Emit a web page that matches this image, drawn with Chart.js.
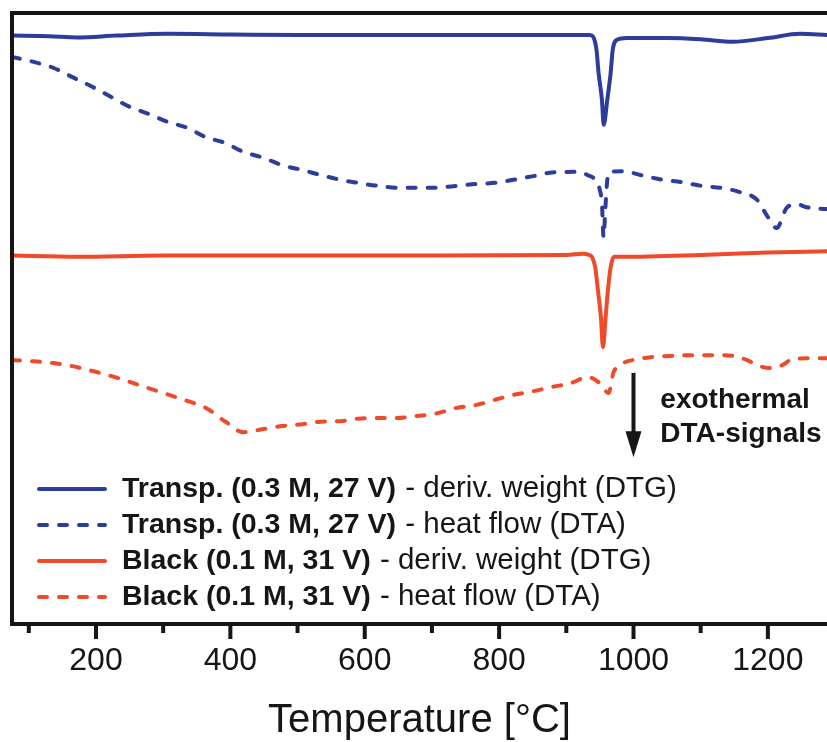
<!DOCTYPE html>
<html>
<head>
<meta charset="utf-8">
<script src="https://cdn.jsdelivr.net/npm/chart.js@4.4.1/dist/chart.umd.min.js"></script>
<style>
  html, body { margin: 0; padding: 0; background: #fff; }
  canvas { display: block; }
</style>
</head>
<body>
<canvas id="chart" width="827" height="742"></canvas>
<script>
// temperatures [°C] and signals (arbitrary units, curves are offset for display)
const dtgTranspT = [75, 130, 172, 230, 306, 400, 500, 600, 700, 800, 900, 935, 940, 945, 948, 953, 955.7, 961, 966, 969, 975, 990, 1050, 1100, 1148, 1200, 1248, 1288];
const dtgTranspV = [96.3, 96.2, 96.0, 96.3, 96.6, 96.5, 96.4, 96.4, 96.4, 96.4, 96.4, 96.4, 96.1, 93.9, 90.2, 85.8, 81.7, 85.8, 90.2, 93.9, 95.6, 95.9, 95.9, 95.7, 95.3, 95.9, 96.6, 96.4];

const dtaTranspT = [75, 107, 137, 165, 195, 222, 251, 278, 306, 336, 363, 393, 419, 449, 477, 507, 534, 564, 590, 620, 650, 700, 738, 764, 794, 821, 851, 879, 920, 931, 943, 950, 953, 955.5, 958, 961, 965, 984, 1017, 1044, 1072, 1102, 1129, 1158, 1184, 1200, 1213, 1228, 1243, 1258, 1288];
const dtaTranspV = [92.8, 92.0, 91.0, 89.5, 87.9, 86.3, 84.6, 83.5, 82.2, 81.2, 79.7, 78.7, 77.3, 76.3, 75.1, 74.3, 73.5, 72.7, 72.2, 71.7, 71.4, 71.4, 71.7, 72.0, 72.2, 72.7, 73.3, 73.9, 74.0, 73.5, 72.7, 71.0, 68.9, 63.3, 67.8, 72.7, 74.0, 74.1, 73.3, 72.7, 72.3, 71.7, 71.4, 70.7, 69.4, 66.6, 64.8, 68.1, 68.7, 68.2, 67.9];

const dtgBlackT = [75, 172, 300, 500, 700, 900, 925, 934, 938, 943, 947, 951.5, 954.6, 958.5, 962, 966, 971, 985, 1100, 1200, 1288];
const dtgBlackV = [60.3, 60.1, 60.3, 60.3, 60.3, 60.4, 60.6, 60.4, 60.1, 58.4, 54.7, 50.2, 45.3, 50.2, 54.7, 58.4, 60.1, 60.1, 60.4, 60.8, 61.0];

const dtaBlackT = [75, 107, 137, 165, 195, 222, 251, 278, 306, 336, 363, 393, 419, 449, 477, 507, 534, 564, 590, 620, 648, 675, 708, 738, 764, 794, 821, 851, 879, 906, 932, 950, 963, 970, 980, 999, 1029, 1059, 1089, 1118, 1148, 1169, 1188, 1203, 1222, 1237, 1267, 1288];
const dtaBlackV = [43.2, 43.0, 42.7, 42.2, 41.4, 40.6, 39.6, 38.6, 37.6, 36.5, 35.4, 33.1, 31.4, 31.9, 32.4, 32.7, 33.1, 33.2, 33.6, 33.7, 33.7, 34.0, 34.5, 35.4, 35.8, 36.7, 37.5, 38.1, 38.8, 39.4, 40.4, 39.4, 37.8, 41.1, 42.4, 43.2, 43.7, 43.9, 44.0, 44.0, 43.9, 43.2, 42.2, 41.9, 42.4, 43.4, 43.5, 43.5];

const tickValues = [100, 200, 300, 400, 500, 600, 700, 800, 900, 1000, 1100, 1200];

const legendBold = ['Transp. (0.3 M, 27 V)', 'Transp. (0.3 M, 27 V)', 'Black (0.1 M, 31 V)', 'Black (0.1 M, 31 V)'];
const legendDesc = [' - deriv. weight (DTG)', ' - heat flow (DTA)', ' - deriv. weight (DTG)', ' - heat flow (DTA)'];

const annotLines = ['exothermal', 'DTA-signals'];

const FONT = "'Liberation Sans', Arial, Helvetica, sans-serif";
const BLUE = '#2c3d9b';
const RED = '#ef4b2a';
const TEXT = '#161616';

function pairs(xs, ys) {
    return xs.map((t, i) => ({ x: t, y: ys[i] }));
}

function lineSet(label, xs, ys, color, dashed) {
    return {
        label: label,
        data: pairs(xs, ys),
        borderColor: color,
        borderWidth: 4,
        borderDash: dashed ? [8, 12] : [],
        borderCapStyle: 'round',
        borderJoinStyle: 'round',
        pointRadius: 0,
        cubicInterpolationMode: 'monotone',
        fill: false
    };
}

// frame, tick marks, legend and the exothermal arrow
const decoPlugin = {
    id: 'deco',
    afterDraw(chart) {
        const { ctx, chartArea: a, scales: { x, y } } = chart;
        ctx.save();

        // frame (open on the right, the figure is cropped there)
        ctx.strokeStyle = TEXT;
        ctx.lineWidth = 4;
        ctx.lineCap = 'square';
        ctx.beginPath();
        ctx.moveTo(a.right + 4, a.top);
        ctx.lineTo(a.left, a.top);
        ctx.lineTo(a.left, a.bottom);
        ctx.lineTo(a.right + 4, a.bottom);
        ctx.stroke();

        // outward ticks, long ones carry labels
        ctx.lineCap = 'butt';
        for (const v of tickValues) {
            const px = x.getPixelForValue(v);
            const len = v % 200 === 0 ? 15 : 9;
            ctx.beginPath();
            ctx.moveTo(px, a.bottom);
            ctx.lineTo(px, a.bottom + len);
            ctx.stroke();
        }

        // legend
        ctx.textBaseline = 'middle';
        ctx.textAlign = 'left';
        legendBold.forEach((b, i) => {
            const ds = chart.data.datasets[i];
            const ly = 489 + i * 36;
            ctx.strokeStyle = ds.borderColor;
            ctx.lineWidth = ds.borderWidth;
            ctx.lineCap = 'round';
            ctx.setLineDash(ds.borderDash);
            ctx.beginPath();
            ctx.moveTo(39, ly);
            ctx.lineTo(105, ly);
            ctx.stroke();
            ctx.setLineDash([]);

            ctx.fillStyle = TEXT;
            ctx.font = 'bold 28.5px ' + FONT;
            ctx.fillText(b, 122, ly);
            const w = ctx.measureText(b).width;
            ctx.font = '29.5px ' + FONT;
            ctx.fillText(legendDesc[i], 123 + w, ly);
        });

        // arrow pointing down: exothermal direction
        const ax = x.getPixelForValue(1000);
        const y0 = y.getPixelForValue(41.1);
        const y1 = y.getPixelForValue(27.3);
        ctx.strokeStyle = TEXT;
        ctx.fillStyle = TEXT;
        ctx.lineWidth = 4;
        ctx.lineCap = 'butt';
        ctx.beginPath();
        ctx.moveTo(ax, y0);
        ctx.lineTo(ax, y1 - 20);
        ctx.stroke();
        ctx.beginPath();
        ctx.moveTo(ax - 8, y1 - 26);
        ctx.lineTo(ax + 8, y1 - 26);
        ctx.lineTo(ax, y1);
        ctx.closePath();
        ctx.fill();

        ctx.font = 'bold 28px ' + FONT;
        ctx.textBaseline = 'alphabetic';
        const tx = x.getPixelForValue(1040);
        ctx.fillText(annotLines[0], tx, y.getPixelForValue(35.4));
        ctx.fillText(annotLines[1], tx, y.getPixelForValue(29.8));

        ctx.restore();
    }
};

const ctx = document.getElementById('chart').getContext('2d');
const chart = new Chart(ctx, {
    type: 'line',
    data: {
        datasets: [
            lineSet(legendBold[0] + legendDesc[0], dtgTranspT, dtgTranspV, BLUE, false),
            lineSet(legendBold[1] + legendDesc[1], dtaTranspT, dtaTranspV, BLUE, true),
            lineSet(legendBold[2] + legendDesc[2], dtgBlackT, dtgBlackV, RED, false),
            lineSet(legendBold[3] + legendDesc[3], dtaBlackT, dtaBlackV, RED, true)
        ]
    },
    options: {
        responsive: false,
        animation: false,
        layout: { padding: { left: 12, top: 13, right: 0, bottom: 0 } },
        plugins: {
            legend: { display: false },
            tooltip: { enabled: false }
        },
        scales: {
            x: {
                type: 'linear',
                min: 75,
                max: 1288,
                afterBuildTicks: s => { s.ticks = tickValues.map(v => ({ value: v })); },
                afterFit: s => { s.height = 118; },
                grid: { display: false, drawTicks: false },
                border: { display: false },
                ticks: {
                    padding: 18,
                    autoSkip: false,
                    maxRotation: 0,
                    color: TEXT,
                    font: { family: FONT, size: 32 },
                    callback: v => (v % 200 === 0 ? String(v) : '')
                },
                title: {
                    display: true,
                    text: 'Temperature [°C]',
                    color: TEXT,
                    font: { family: FONT, size: 40, lineHeight: 1 },
                    padding: { top: 0, bottom: 1 }
                }
            },
            y: { display: false, min: 0, max: 100 }
        }
    },
    plugins: [decoPlugin]
});
</script>
</body>
</html>
